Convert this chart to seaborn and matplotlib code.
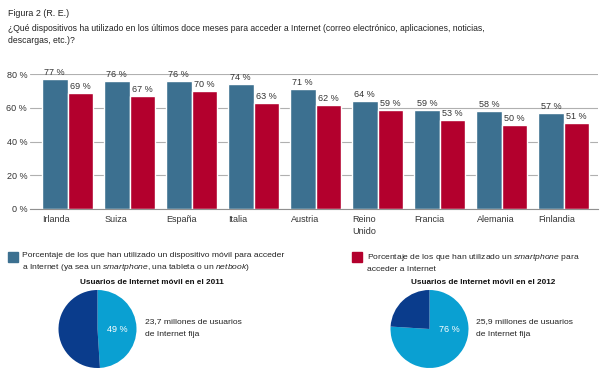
import pandas as pd
import matplotlib.pyplot as plt
import matplotlib.transforms as mtrans
import seaborn as sns

# Data
paises = ['Irlanda', 'Suiza', 'España', 'Italia', 'Austria', 'Reino\nUnido',
          'Francia', 'Alemania', 'Finlandia']
movil = [77, 76, 76, 74, 71, 64, 59, 58, 57]
smartphone = [69, 67, 70, 63, 62, 59, 53, 50, 51]
yticks = [0, 20, 40, 60, 80]

pie_2011 = [49, 51]
pie_2012 = [76, 24]

azul = '#3c7090'
rojo = '#b3002d'
cian = '#0aa0d2'
marino = '#0a3c8c'

df = pd.DataFrame({
    'pais': paises * 2,
    'valor': movil + smartphone,
    'serie': ['movil'] * len(paises) + ['smartphone'] * len(paises),
})

sns.set_style('white')
plt.rcParams['font.family'] = ['Liberation Sans', 'DejaVu Sans']
plt.rcParams['mathtext.fontset'] = 'custom'
plt.rcParams['mathtext.it'] = 'Liberation Sans:italic'
plt.rcParams['mathtext.rm'] = 'Liberation Sans'

fig = plt.figure(figsize=(6, 3.83), dpi=100)

# Title
fig.text(8 / 600, 1 - 13 / 383, 'Figura 2 (R. E.)', fontsize=6.4, va='center', color='#222222')
fig.text(8 / 600, 1 - 34.5 / 383,
         '¿Qué dispositivos ha utilizado en los últimos doce meses para acceder a Internet '
         '(correo electrónico, aplicaciones, noticias,\ndescargas, etc.)?',
         fontsize=6.2, va='center', color='#222222', linespacing=1.5)

# Bar chart
ax = fig.add_axes([30 / 600, 1 - 209 / 383, 568 / 600, (209 - 74.3) / 383])
sns.barplot(data=df, x='pais', y='valor', hue='serie', palette=[azul, rojo],
            width=0.82, ax=ax, legend=False, saturation=1)
ax.set_ylim(0, 80)
ax.set_xlim(-0.605, 8.556)
ax.set_yticks(yticks)
ax.set_yticklabels([f'{v} %' for v in yticks])
ax.yaxis.grid(True, color='#b0b0b0', linewidth=0.8)
ax.set_axisbelow(True)
for s in ['top', 'right', 'left']:
    ax.spines[s].set_visible(False)
ax.spines['bottom'].set_color('#909090')
ax.set_xlabel('')
ax.set_ylabel('')
ax.tick_params(axis='y', length=0, labelsize=6.5, colors='#333333', pad=2)
ax.tick_params(axis='x', length=0, labelsize=6.5, colors='#333333', pad=4)
ax.set_xticks(range(len(paises)))
ax.set_xticklabels(paises, ha='left', linespacing=1.5)
shift = mtrans.ScaledTranslation(-25 / 100, 0, fig.dpi_scale_trans)
for lbl in ax.get_xticklabels():
    lbl.set_transform(lbl.get_transform() + shift)
for cont in ax.containers:
    ax.bar_label(cont, labels=[f'{int(b.get_height())} %' for b in cont],
                 fontsize=6.5, color='#333333', padding=1.5, clip_on=False)

# Legend
fig.patches.append(plt.Rectangle((8 / 600, 1 - 262 / 383), 10 / 600, 10 / 383,
                                 color=azul, transform=fig.transFigure, figure=fig))
fig.text(22 / 600, 1 - 262.5 / 383,
         'Porcentaje de los que han utilizado un dispositivo móvil para acceder\n'
         'a Internet (ya sea un $\\it{smartphone}$, una tableta o un $\\it{netbook}$)',
         fontsize=6.1, va='center', color='#222222', linespacing=1.5)
fig.patches.append(plt.Rectangle((352 / 600, 1 - 262 / 383), 10 / 600, 10 / 383,
                                 color=rojo, transform=fig.transFigure, figure=fig))
fig.text(367 / 600, 1 - 262.5 / 383,
         'Porcentaje de los que han utilizado un $\\it{smartphone}$ para\nacceder a Internet',
         fontsize=6.1, va='center', color='#222222', linespacing=1.5)

# Pies
def draw_pie(cx, vals, title, label, note, note_x):
    pax = fig.add_axes([(cx - 39) / 600, (383 - 368) / 383, 78 / 600, 78 / 383])
    pax.pie(vals, colors=[cian, marino], startangle=90, counterclock=False,
            wedgeprops=dict(linewidth=0))
    pax.set_xlim(-1, 1)
    pax.set_ylim(-1, 1)
    pax.set_aspect('equal')
    pax.axis('off')
    pax.text(0.5, 0.0, label, color='white', fontsize=6.5, ha='center', va='center')
    fig.text((cx + 54) / 600, 1 - 283 / 383, title, fontsize=5.9, fontweight='bold',
             ha='center', va='center', color='#111111')
    for i, line in enumerate(note):
        fig.text(note_x / 600, 1 - (322 + 13 * i) / 383, line, fontsize=6.1,
                 va='center', color='#222222')

draw_pie(97.5, pie_2011, 'Usuarios de Internet móvil en el 2011', '49 %',
         ['23,7 millones de usuarios', 'de Internet fija'], 145)
draw_pie(429.5, pie_2012, 'Usuarios de Internet móvil en el 2012', '76 %',
         ['25,9 millones de usuarios', 'de Internet fija'], 476)

fig.savefig('out.png', dpi=100)
